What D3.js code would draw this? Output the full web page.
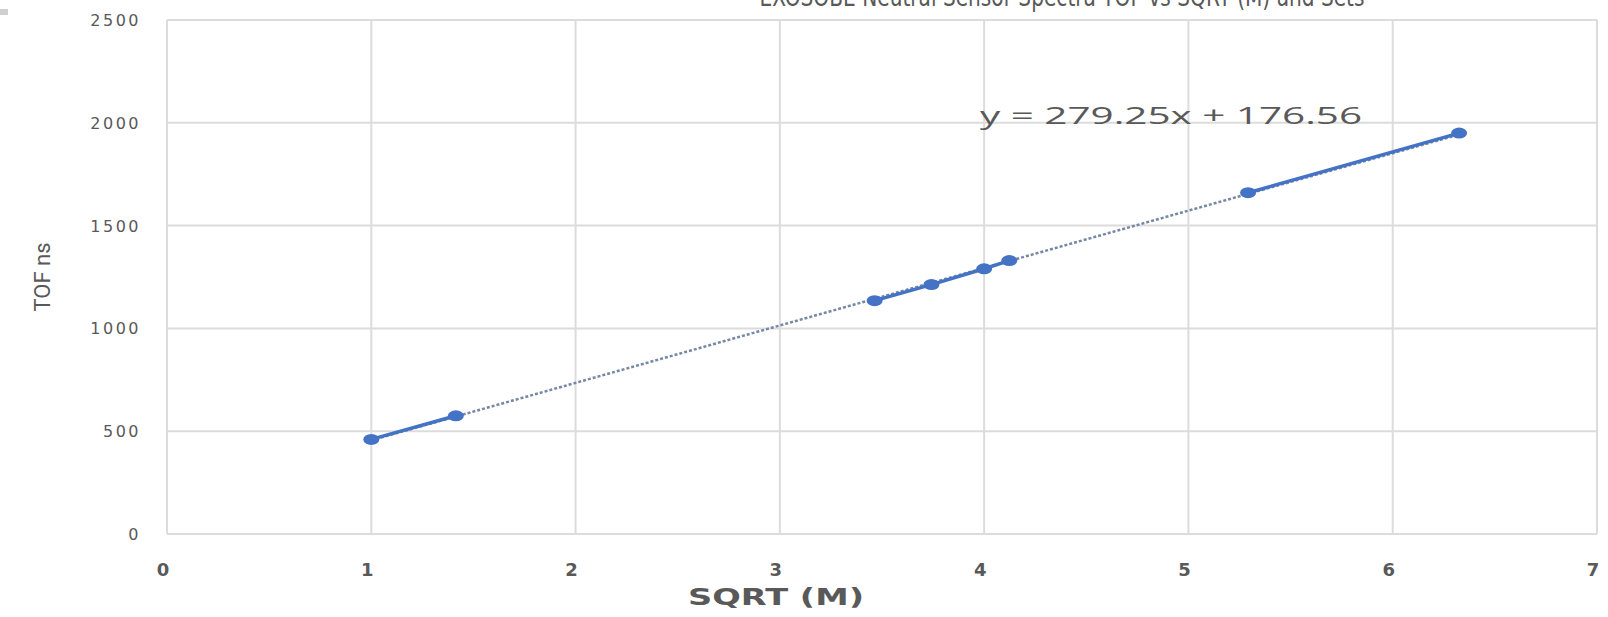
<!DOCTYPE html>
<html>
<head>
<meta charset="utf-8">
<script src="https://cdn.jsdelivr.net/npm/d3@7"></script>
<style>
  body { margin: 0; background: #fff; }
  text { font-family: "DejaVu Sans", sans-serif; fill: #595959; }
</style>
</head>
<body>
<script>
// data
var sqrtM = [1, 1.414, 3.464, 3.742, 4, 4.123, 5.292, 6.325];
var tof = [460, 575, 1135, 1213, 1290, 1330, 1660, 1950];
var segment = [1, 1, 2, 2, 2, 2, 3, 3];   // groups drawn with a solid line
var xTicks = [0, 1, 2, 3, 4, 5, 6, 7];
var yTicks = [0, 500, 1000, 1500, 2000, 2500];
var slope = 279.25, intercept = 176.56;

var width = 1608, height = 617;
var margin = {left: 167, right: 11, top: 20, bottom: 83};

var svg = d3.select("body").append("svg")
    .attr("width", width)
    .attr("height", height);

var x = d3.scaleLinear().domain([0, 7]).range([margin.left, width - margin.right]);
var y = d3.scaleLinear().domain([0, 2500]).range([height - margin.bottom, margin.top]);

// small grey mark at top left
svg.append("rect").attr("x", 0).attr("y", 9).attr("width", 8).attr("height", 6).attr("fill", "#cfcfcf");

// gridlines
svg.append("g").selectAll("line")
    .data(xTicks)
    .enter().append("line")
    .attr("x1", function(d) { return x(d); })
    .attr("x2", function(d) { return x(d); })
    .attr("y1", y(0)).attr("y2", y(2500))
    .attr("stroke", "#dcdcdc").attr("stroke-width", 2);

svg.append("g").selectAll("line")
    .data(yTicks)
    .enter().append("line")
    .attr("x1", x(0)).attr("x2", x(7))
    .attr("y1", function(d) { return y(d); })
    .attr("y2", function(d) { return y(d); })
    .attr("stroke", "#dcdcdc").attr("stroke-width", 2);

// tick labels
svg.append("g").selectAll("text")
    .data(yTicks)
    .enter().append("text")
    .attr("x", 141)
    .attr("y", function(d) { return y(d) + 6; })
    .attr("text-anchor", "end")
    .style("font-size", "16px")
    .style("letter-spacing", "2.5px")
    .text(function(d) { return d; });

svg.append("g").selectAll("text")
    .data(xTicks)
    .enter().append("text")
    .attr("x", function(d) { return x(d) - 4; })
    .attr("y", 576)
    .attr("text-anchor", "middle")
    .style("font-size", "18px")
    .style("font-weight", "bold")
    .text(function(d) { return d; });

// axis titles
svg.append("text")
    .attr("x", 776).attr("y", 605)
    .attr("text-anchor", "middle")
    .attr("textLength", 176)
    .attr("lengthAdjust", "spacingAndGlyphs")
    .style("font-size", "23px")
    .style("font-weight", "bold")
    .text("SQRT (M)");

svg.append("text")
    .attr("transform", "translate(50,277) rotate(-90)")
    .attr("text-anchor", "middle")
    .style("font-family", "'Liberation Sans Narrow', 'Roboto', sans-serif")
    .style("font-size", "22px")
    .text("TOF ns");

// chart title, cut at the top edge
svg.append("text")
    .attr("x", 1062).attr("y", 6)
    .attr("text-anchor", "middle")
    .attr("textLength", 605)
    .attr("lengthAdjust", "spacingAndGlyphs")
    .style("font-size", "26px")
    .text("EXOSOBE Neutral Sensor Spectra TOF vs SQRT (M) and Sets");

// trendline
var xMin = d3.min(sqrtM), xMax = d3.max(sqrtM);
svg.append("line")
    .attr("x1", x(xMin)).attr("y1", y(slope * xMin + intercept))
    .attr("x2", x(xMax)).attr("y2", y(slope * xMax + intercept))
    .attr("stroke", "#7688a3")
    .attr("stroke-width", 2.5)
    .attr("stroke-dasharray", "3,2");

svg.append("text")
    .attr("x", 980).attr("y", 124)
    .attr("textLength", 382)
    .attr("lengthAdjust", "spacingAndGlyphs")
    .style("font-family", "'Open Sans', sans-serif")
    .style("font-size", "24px")
    .text("y = 279.25x + 176.56");

// series
var points = sqrtM.map(function(d, i) { return {x: d, y: tof[i], g: segment[i]}; });
var groups = d3.groups(points, function(d) { return d.g; });

var line = d3.line()
    .x(function(d) { return x(d.x); })
    .y(function(d) { return y(d.y); });

svg.append("g").selectAll("path")
    .data(groups)
    .enter().append("path")
    .attr("d", function(d) { return line(d[1]); })
    .attr("fill", "none")
    .attr("stroke", "#4472c4")
    .attr("stroke-width", 3.5);

svg.append("g").selectAll("ellipse")
    .data(points)
    .enter().append("ellipse")
    .attr("cx", function(d) { return x(d.x); })
    .attr("cy", function(d) { return y(d.y); })
    .attr("rx", 8).attr("ry", 5.5)
    .attr("fill", "#4472c4");
</script>
</body>
</html>
